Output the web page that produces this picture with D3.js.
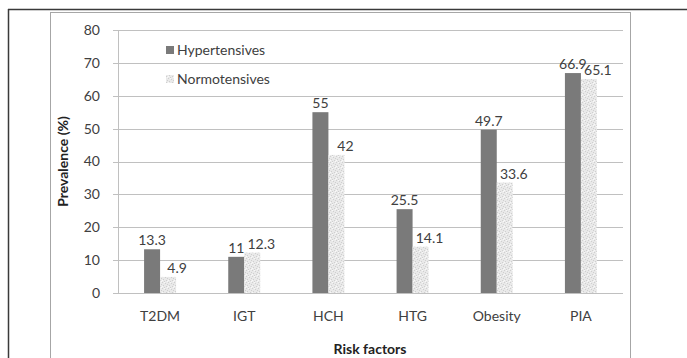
<!DOCTYPE html>
<html><head><meta charset="utf-8">
<script src="https://cdn.jsdelivr.net/npm/d3@7"></script>
<style>html,body{margin:0;padding:0;background:#fff;}svg{display:block;}</style>
</head><body>
<svg id="chart" width="687" height="358"></svg>
<script>
const categories = ["T2DM", "IGT", "HCH", "HTG", "Obesity", "PIA"];
const hypertensives = [13.3, 11, 55, 25.5, 49.7, 66.9];
const normotensives = [4.9, 12.3, 42, 14.1, 33.6, 65.1];
const seriesNames = ["Hypertensives", "Normotensives"];
const yTicks = [0, 10, 20, 30, 40, 50, 60, 70, 80];

(function () {
const svg = d3.select("#chart");
const font = "Lato, 'Open Sans', sans-serif";
const txt = "#404040";
const fs = 14;

// pattern for normotensives
const defs = svg.append("defs");
const pat = defs.append("pattern").attr("id", "speckle").attr("patternUnits", "userSpaceOnUse")
  .attr("width", 6).attr("height", 6);
pat.append("rect").attr("width", 6).attr("height", 6).attr("fill", "#e9e9e9");
[[0,0],[3,1],[1,3],[4,4],[2,5],[5,2]].forEach(([px,py]) =>
  pat.append("rect").attr("x", px).attr("y", py).attr("width", 1).attr("height", 1).attr("fill", "#cfcfcf"));
[[2,0],[0,4],[5,5]].forEach(([px,py]) =>
  pat.append("rect").attr("x", px).attr("y", py).attr("width", 1).attr("height", 1).attr("fill", "#f8f8f8"));

// outer frame
svg.append("line").attr("x1", 8).attr("x2", 687).attr("y1", 9.5).attr("y2", 9.5).attr("stroke", "#3a3a3a").attr("stroke-width", 1.5);
svg.append("line").attr("x1", 8.5).attr("x2", 8.5).attr("y1", 9).attr("y2", 358).attr("stroke", "#3a3a3a").attr("stroke-width", 1.5);
// inner chart box
svg.append("rect").attr("x", 50.5).attr("y", 12.5).attr("width", 580).attr("height", 360)
  .attr("fill", "#fff").attr("stroke", "#a6a6a6").attr("stroke-width", 1);

const pLeft = 118, pRight = 623, pTop = 30, pBottom = 293;
const x = d3.scaleBand().domain(categories).range([pLeft, pRight]);
const y = d3.scaleLinear().domain([0, 80]).range([pBottom, pTop]);
const bw = 16;

// gridlines
svg.append("g").selectAll("line").data(yTicks).join("line")
  .attr("x1", pLeft - 5).attr("x2", pRight)
  .attr("y1", d => Math.round(y(d)) + 0.5).attr("y2", d => Math.round(y(d)) + 0.5)
  .attr("stroke", "#c0c0c0").attr("stroke-width", 1);
svg.append("line").attr("x1", pLeft + 0.5).attr("x2", pLeft + 0.5).attr("y1", pTop).attr("y2", pBottom)
  .attr("stroke", "#c0c0c0");

// y axis labels
const yAxis = d3.axisLeft(y).tickValues(yTicks).tickSize(0).tickPadding(18);
const gy = svg.append("g").attr("transform", `translate(${pLeft},0)`).call(yAxis);
gy.select(".domain").remove();
gy.selectAll("text").attr("font-family", font).attr("font-size", fs).attr("fill", txt);

// x axis labels
const xAxis = d3.axisBottom(x).tickSize(0).tickPadding(18);
const gx = svg.append("g").attr("transform", `translate(0,${pBottom})`).call(xAxis);
gx.select(".domain").remove();
gx.selectAll("text").attr("font-family", font).attr("font-size", fs).attr("fill", txt);

// bars
const series = [
  {name: seriesNames[0], values: hypertensives, fill: "#7a7a7a", off: -bw, dx: 0},
  {name: seriesNames[1], values: normotensives, fill: "url(#speckle)", off: 0, dx: 9}
];
series.forEach(s => {
  const g = svg.append("g");
  g.selectAll("rect").data(categories).join("rect")
    .attr("x", (c) => x(c) + x.bandwidth() / 2 + s.off)
    .attr("y", (c, i) => y(s.values[i]))
    .attr("width", bw)
    .attr("height", (c, i) => pBottom - y(s.values[i]))
    .attr("fill", s.fill);
  g.selectAll("text").data(categories).join("text")
    .attr("x", (c) => x(c) + x.bandwidth() / 2 + s.off + bw / 2 + s.dx)
    .attr("y", (c, i) => y(s.values[i]) - 4)
    .attr("text-anchor", "middle")
    .attr("font-family", font).attr("font-size", fs).attr("fill", txt)
    .text((c, i) => s.values[i]);
});

// legend
const lg = svg.append("g");
series.forEach((s, i) => {
  const ly = 50 + i * 29;
  lg.append("rect").attr("x", 166).attr("y", ly - 4).attr("width", 8).attr("height", 8).attr("fill", s.fill);
  lg.append("text").attr("x", 177).attr("y", ly).attr("dy", "0.35em")
    .attr("font-family", font).attr("font-size", fs).attr("fill", txt).text(s.name);
});

// axis titles
svg.append("text").attr("transform", `translate(68,${(pTop + pBottom) / 2}) rotate(-90)`)
  .attr("text-anchor", "middle").attr("font-family", font).attr("font-size", fs)
  .attr("font-weight", "bold").attr("fill", "#222").text("Prevalence (%)");
svg.append("text").attr("x", 370).attr("y", 354)
  .attr("text-anchor", "middle").attr("font-family", font).attr("font-size", fs)
  .attr("font-weight", "bold").attr("fill", "#222").text("Risk factors");
})();
</script>
</body></html>
